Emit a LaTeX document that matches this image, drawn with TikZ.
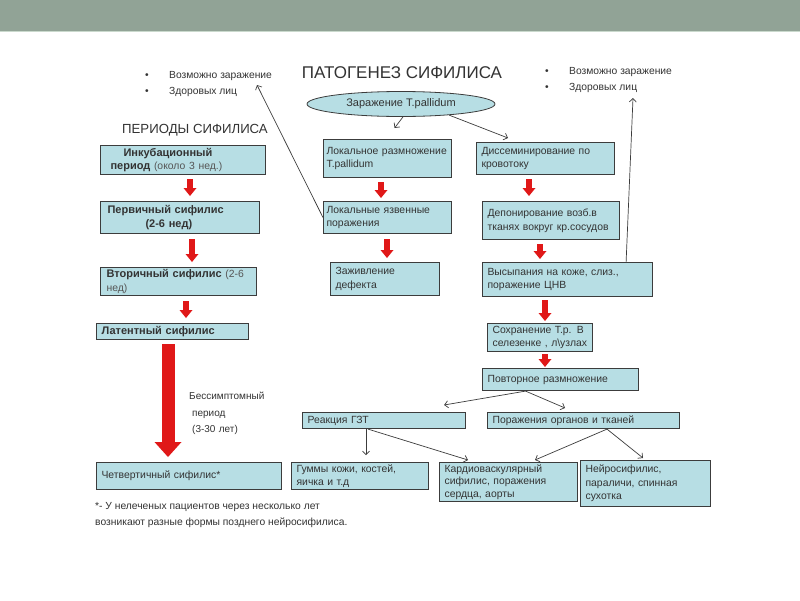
\documentclass[tikz,border=0pt]{standalone}
\usepackage{fontspec}
\setmainfont{Liberation Sans}
\usetikzlibrary{positioning,arrows.meta,calc,shapes.geometric}

\definecolor{band}{HTML}{91A396}
\definecolor{bandline}{HTML}{CAD9CD}
\definecolor{boxfill}{HTML}{B7DEE4}
\definecolor{boxline}{HTML}{3C3C3C}
\definecolor{txt}{HTML}{333333}
\definecolor{txtl}{HTML}{555555}
\definecolor{arrred}{HTML}{E01818}

\newcommand{\bulmark}{\makebox[24pt][l]{\textbullet}}

\begin{document}
\begin{tikzpicture}[
    x=1pt, y=-1pt,
    font=\fontsize{10.4}{13.5}\selectfont, text=txt,
    box/.style={draw=boxline, line width=1.1pt, fill=boxfill, anchor=north west,
                align=left, inner xsep=5pt, inner ysep=2pt},
    lbox/.style={box, font=\fontsize{11}{13.5}\selectfont},
    ell/.style={ellipse, draw=boxline, line width=0.8pt, fill=boxfill,
                minimum width=188pt, minimum height=25pt, inner sep=0pt,
                font=\fontsize{11}{13}\selectfont},
    bul/.style={anchor=west, inner sep=0pt, font=\fontsize{10.3}{12}\selectfont},
    note/.style={anchor=north west, align=left, inner sep=0pt},
    conn/.style={draw=boxline, line width=0.7pt, -{Straight Barb[length=3.5pt,width=7pt]}},
    redarr/.style={draw=arrred, line width=6pt, -{Triangle[length=8pt,width=13pt,line width=0pt]}},
    bigarr/.style={draw=arrred, line width=13pt, -{Triangle[length=15pt,width=27pt,line width=0pt]}},
  ]

  \useasboundingbox (0,0) rectangle (800,600);
  \fill[white] (0,0) rectangle (800,600);

  % ============ Полоса сверху ============
  \fill[band] (0,0) rectangle (800,31);
  \draw[bandline, line width=1pt] (0,31.5) -- (800,31.5);

  % ============ Заголовки и примечания ============
  \node[font=\fontsize{17}{20}\selectfont] (title) at (402,73) {ПАТОГЕНЕЗ СИФИЛИСА};
  \node[font=\fontsize{13.2}{16}\selectfont] (perTitle) at (195,130) {ПЕРИОДЫ СИФИЛИСА};

  \node[bul] (bulL1) at (145,76) {\bulmark Возможно заражение};
  \node[bul] (bulL2) at (145,92) {\bulmark Здоровых лиц};
  \node[bul] (bulR1) at (545,72) {\bulmark Возможно заражение};
  \node[bul] (bulR2) at (545,88) {\bulmark Здоровых лиц};
  \coordinate (tipL) at (257,85);
  \coordinate (tipR) at (633,98);

  % ============ Периоды сифилиса (левая колонка) ============
  \node[lbox, text width=155pt, minimum height=29pt] (inc) at (100,145)
        {\hspace*{18pt}\textbf{Инкубационный}\\\hspace*{5pt}\textbf{период} {\fontsize{10.4}{13}\selectfont\color{txtl}(около 3 нед.)}};
  \node[lbox, text width=149pt, minimum height=32pt] (prim) at (100,201)
        {\hspace*{2pt}\textbf{Первичный сифилис}\\\hspace*{40pt}\textbf{(2-6 нед)}};
  \node[lbox, text width=146pt, minimum height=28pt] (sec) at (100,267)
        {\hspace*{1pt}\textbf{Вторичный сифилис} {\fontsize{10.4}{13}\selectfont\color{txtl}(2-6}\\\hspace*{1pt}{\fontsize{10.4}{13}\selectfont\color{txtl}нед)}};
  \node[lbox, text width=142pt, minimum height=16pt] (lat) at (96,323)
        {\textbf{Латентный сифилис}};
  \node[box, text width=175pt, minimum height=27pt] (quat) at (96,462)
        {Четвертичный сифилис*};

  \draw[redarr, shorten <=4pt, shorten >=5pt] (inc.south -| 190,0) -- (prim.north -| 190,0);
  \draw[redarr, shorten <=5pt, shorten >=5pt] (prim.south -| 192,0) -- (sec.north -| 192,0);
  \draw[redarr, shorten <=5pt, shorten >=5pt] (sec.south -| 186,0) -- (lat.north -| 186,0);
  \draw[bigarr, shorten <=4pt, shorten >=5pt] (lat.south -| 168,0) -- (quat.north -| 168,0);

  \node[note, text width=90pt, font=\fontsize{10}{16.5}\selectfont] (latNote) at (189,392)
        {Бессимптомный\\\hspace*{3pt}период\\\hspace*{3pt}(3-30 лет)};
  \node[note, font=\fontsize{10.3}{16}\selectfont] (foot) at (95,502)
        {*- У нелеченых пациентов через несколько лет\\возникают разные формы позднего нейросифилиса.};

  % ============ Патогенез (средняя колонка) ============
  \node[ell] (infect) at (401,104) {Заражение T.pallidum};

  \node[box, inner xsep=3pt, text width=122pt, minimum height=38pt] (locm) at (323,139)
        {Локальное размножение\\T.pallidum};
  \node[box, inner xsep=3pt, text width=122pt, minimum height=32pt] (ulc) at (323,201)
        {Локальные язвенные\\поражения};
  \node[box, text width=99pt, minimum height=33pt] (heal) at (330,262)
        {Заживление\\дефекта};

  \draw[redarr, shorten <=4pt, shorten >=3pt] (locm.south -| 381,0) -- (ulc.north -| 381,0);
  \draw[redarr, shorten <=5pt, shorten >=4pt] (ulc.south -| 387,0) -- (heal.north -| 387,0);

  \draw[conn] ($(infect.south)+(2,0)$) -- ($(locm.north)+(7,-11)$);
  \draw[conn] (ulc.west) -- (tipL);

  % ============ Диссеминация (правая колонка) ============
  \node[box, text width=128pt, minimum height=32pt] (diss) at (476,142)
        {Диссеминирование по\\кровотоку};
  \node[box, text width=127pt, minimum height=38pt] (dep) at (482,201)
        {Депонирование возб.в\\тканях вокруг кр.сосудов};
  \node[box, text width=160pt, minimum height=34pt] (rash) at (482,262)
        {Высыпания на коже, слиз.,\\поражение ЦНВ};
  \node[box, text width=95pt, minimum height=28pt] (pers) at (487,323)
        {Сохранение T.p. В\\селезенке , л\textbackslash узлах};
  \node[box, text width=146pt, minimum height=22pt] (rep) at (482,368)
        {Повторное размножение};

  \draw[conn] (infect.-13) -- ($(diss.north west)+(32,-4)$);
  \draw[conn] ($(rash.north east)+(-27,0)$) -- (tipR);

  \draw[redarr, shorten <=4pt, shorten >=5pt] (diss.south -| 529,0) -- (dep.north -| 529,0);
  \draw[redarr, shorten <=4pt, shorten >=3pt] (dep.south -| 540,0) -- (rash.north -| 540,0);
  \draw[redarr, shorten <=3pt, shorten >=2pt] (rash.south -| 545,0) -- (pers.north -| 545,0);
  \draw[redarr, shorten <=2pt, shorten >=1pt] (pers.south -| 545,0) -- (rep.north -| 545,0);

  % ============ Поздние проявления (нижний ряд) ============
  \node[box, text width=153pt, minimum height=16pt] (gzt) at (302,412) {Реакция ГЗТ};
  \node[box, text width=182pt, minimum height=16pt] (org) at (487,412) {Поражения органов и тканей};

  \node[box, text width=127pt, minimum height=27pt] (gum) at (291,462)
        {Гуммы кожи, костей,\\яичка и т.д};
  \node[box, text width=128pt, minimum height=38pt, font=\fontsize{10.4}{12.5}\selectfont] (card) at (439,462)
        {Кардиоваскулярный\\сифилис, поражения\\сердца, аорты};
  \node[box, text width=120pt, minimum height=46pt] (neuro) at (580,460)
        {Нейросифилис,\\параличи, спинная\\сухотка};

  \draw[conn] ($(rep.south)+(-35,0)$) -- ($(gzt.north east)+(-22,-7)$);
  \draw[conn] ($(rep.south)+(-35,0)$) -- ($(org.north west)+(78,-4)$);
  \draw[conn] ($(gzt.south west)+(64,0)$) -- ($(gum.north west)+(75,-7)$);
  \draw[conn] ($(gzt.south west)+(66,0)$) -- ($(card.north west)+(29,-2)$);
  \draw[conn] ($(org.south west)+(120,0)$) -- ($(card.north west)+(96,-2)$);
  \draw[conn] ($(org.south west)+(120,0)$) -- ($(neuro.north west)+(63,-2)$);

\end{tikzpicture}
\end{document}
